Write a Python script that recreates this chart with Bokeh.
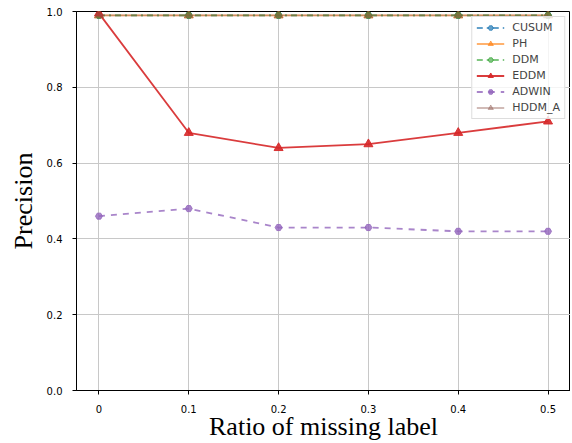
from bokeh.plotting import figure
from bokeh.models import FixedTicker, Range1d, Legend
from bokeh.embed import file_html
from bokeh.resources import INLINE

ratios = [0, 0.1, 0.2, 0.3, 0.4, 0.5]
x_tick_labels = ["0", "0.1", "0.2", "0.3", "0.4", "0.5"]
y_ticks = [0.0, 0.2, 0.4, 0.6, 0.8, 1.0]
cusum = [0.99, 0.99, 0.99, 0.99, 0.99, 0.99]
ph = [0.99, 0.99, 0.99, 0.99, 0.99, 0.99]
ddm = [0.99, 0.99, 0.99, 0.99, 0.99, 0.99]
eddm = [0.995, 0.68, 0.64, 0.65, 0.68, 0.71]
adwin = [0.46, 0.48, 0.43, 0.43, 0.42, 0.42]
hddm_a = [0.99, 0.99, 0.99, 0.99, 0.99, 0.99]

series = [
    ("CUSUM", cusum, "#1f77b4", "dashdot", "hex", 0.7, 7),
    ("PH", ph, "#ff7f0e", "solid", "triangle", 0.6, 9),
    ("DDM", ddm, "#2ca02c", "dashdot", "hex", 0.6, 7),
    ("EDDM", eddm, "#d62728", "solid", "triangle", 0.9, 9),
    ("ADWIN", adwin, "#9467bd", "dashed", "hex", 0.8, 7),
    ("HDDM_A", hddm_a, "#8c564b", "solid", "triangle", 0.4, 9),
]

p = figure(width=570, height=443, output_backend="svg", toolbar_location=None,
           x_range=Range1d(-0.025, 0.525), y_range=Range1d(0, 1),
           min_border_left=76, min_border_top=11, min_border_right=0, min_border_bottom=53)

items = []
for name, ys, color, dash, marker, alpha, size in series:
    r1 = p.line(ratios, ys, line_color=color, line_width=1.8, line_dash=dash, line_alpha=alpha)
    r2 = p.scatter(ratios, ys, marker=marker, size=size, fill_color=color, line_color=color,
                   fill_alpha=alpha, line_alpha=alpha)
    items.append((name, [r1, r2]))

legend = Legend(items=items, location="top_right")
legend.label_text_font = "DejaVu Sans"
legend.label_text_font_size = "11px"
legend.label_height = 13
legend.glyph_height = 13
legend.glyph_width = 28
legend.spacing = 3
legend.padding = 4
legend.margin = 5
legend.border_line_color = "#dddddd"
legend.border_line_alpha = 1
legend.background_fill_alpha = 0.8
legend.label_standoff = 8
p.add_layout(legend)

p.xaxis.ticker = FixedTicker(ticks=ratios)
p.xaxis.major_label_overrides = {r: l for r, l in zip(ratios, x_tick_labels)}
p.yaxis.ticker = FixedTicker(ticks=y_ticks)
p.yaxis.major_label_overrides = {v: f"{v:.1f}" for v in y_ticks}

for ax in (p.xaxis[0], p.yaxis[0]):
    ax.axis_line_color = "black"
    ax.major_tick_line_color = "black"
    ax.major_tick_out = 4
    ax.major_tick_in = 0
    ax.minor_tick_line_color = None
    ax.major_label_text_font = "DejaVu Sans"
    ax.major_label_text_font_size = "10px"
    ax.major_label_text_color = "black"
    ax.axis_label_text_font = "Liberation Serif"
    ax.axis_label_text_font_style = "normal"
    ax.axis_label_text_font_size = "26px"
    ax.axis_label_text_color = "black"

p.xaxis.axis_label = "Ratio of missing label"
p.yaxis.axis_label = "Precision"
p.xaxis.axis_label_standoff = -4
p.yaxis.axis_label_standoff = 6
p.xaxis.major_label_standoff = 10
p.yaxis.major_label_standoff = 10

p.xgrid.grid_line_color = "#c8c8c8"
p.ygrid.grid_line_color = "#c8c8c8"
p.xgrid.grid_line_width = 1
p.ygrid.grid_line_width = 1
p.outline_line_color = "black"
p.outline_line_alpha = 1

open("out.html", "w").write(file_html(p, INLINE))
